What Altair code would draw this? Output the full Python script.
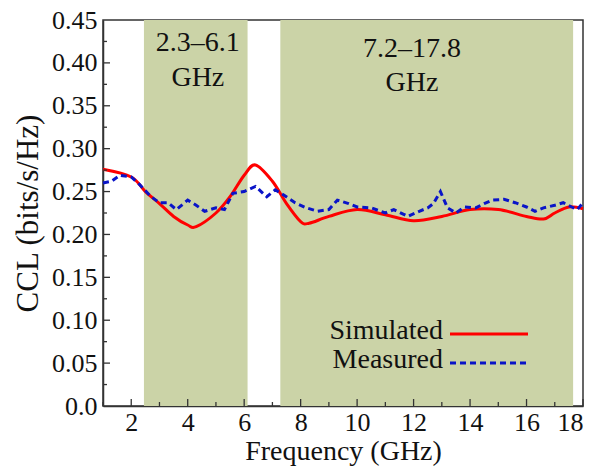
import altair as alt
import pandas as pd

# Simulated CCL (smooth)
sim_f = [1.0, 2.0, 2.5, 3.0, 3.5, 4.0, 4.3, 5.0, 5.5, 6.0, 6.4, 7.0, 7.5, 8.0, 8.3, 9.0,
         10.0, 11.0, 12.0, 13.0, 14.0, 15.0, 16.0, 16.6, 17.0, 17.5, 18.0]
sim_v = [0.276, 0.267, 0.250, 0.236, 0.221, 0.211, 0.209, 0.225, 0.244, 0.269, 0.281, 0.262,
         0.236, 0.215, 0.213, 0.221, 0.229, 0.223, 0.216, 0.221, 0.229, 0.229, 0.221, 0.218,
         0.225, 0.232, 0.230]

# Measured CCL (wiggly)
mea_f = [1.0, 1.3, 1.6, 2.0, 2.3, 2.7, 3.0, 3.3, 3.6, 4.0, 4.3, 4.6, 5.0, 5.3, 5.6, 6.0,
         6.4, 6.8, 7.1, 7.4, 7.8, 8.2, 8.6, 9.0, 9.3, 9.7, 10.0, 10.5, 11.0, 11.3, 11.8,
         12.2, 12.5, 12.7, 12.95, 13.2, 13.5, 13.8, 14.2, 14.5, 14.8, 15.2, 15.6, 16.0,
         16.3, 16.6, 17.0, 17.3, 17.6, 17.8, 18.0]
mea_v = [0.260, 0.262, 0.269, 0.267, 0.258, 0.244, 0.237, 0.237, 0.229, 0.240, 0.234, 0.227,
         0.231, 0.229, 0.248, 0.250, 0.256, 0.244, 0.252, 0.246, 0.237, 0.231, 0.227, 0.229,
         0.240, 0.236, 0.232, 0.231, 0.225, 0.229, 0.221, 0.227, 0.231, 0.236, 0.250, 0.231,
         0.225, 0.232, 0.231, 0.236, 0.240, 0.241, 0.237, 0.232, 0.227, 0.231, 0.234, 0.237,
         0.232, 0.229, 0.237]

# Shaded bands (as drawn) and their labels
band_start = [2.45, 7.28]
band_end = [6.12, 17.65]
band_label_1 = ["2.3\u20136.1", "7.2\u201317.8"]
band_label_2 = ["GHz", "GHz"]
band_label_x = [4.36, 11.94]

x_major = [2, 4, 6, 8, 10, 12, 14, 16, 18]
x_minor = [1, 3, 5, 7, 9, 11, 13, 15, 17]
y_major = [0.05, 0.10, 0.15, 0.20, 0.25, 0.30, 0.35, 0.40]
y_minor = [0.025, 0.075, 0.125, 0.175, 0.225, 0.275, 0.325, 0.375, 0.425]
y_labels = [0.0, 0.05, 0.10, 0.15, 0.20, 0.25, 0.30, 0.35, 0.40, 0.45]

legend_names = ["Simulated", "Measured"]

FONT = "Liberation Serif"
W, H = 480, 386
TXT = "#111111"
AX = "#333333"
FS_TICK = 26
FS = 28
RED = "#ff0000"
BLUE = "#0a14c8"

xs = alt.Scale(domain=[1, 18], nice=False, zero=False)
ys = alt.Scale(domain=[0, 0.45], nice=False, zero=False)

sim_df = pd.DataFrame({"f": sim_f, "v": sim_v})
mea_df = pd.DataFrame({"f": mea_f, "v": mea_v})
band_df = pd.DataFrame({"s": band_start, "e": band_end, "l1": band_label_1,
                        "l2": band_label_2, "cx": band_label_x})

bands = alt.Chart(band_df).mark_rect(color="#cbd3a7").encode(
    x=alt.X("s:Q", scale=xs,
            axis=alt.Axis(values=x_major, title="Frequency (GHz)", tickSize=0,
                          labelPadding=3, labelFontSize=FS_TICK, titleFontSize=FS,
                          titlePadding=2, grid=False, domainColor=AX, domainWidth=1.5,
                          labelColor=TXT, titleColor=TXT, labelFont=FONT, titleFont=FONT,
                          titleFontWeight="normal")),
    x2="e:Q",
    y=alt.value(0), y2=alt.value(H),
)

def band_text(i, field, ypix):
    return alt.Chart(band_df.iloc[[i]]).mark_text(
        font=FONT, fontSize=FS, color=TXT, baseline="alphabetic").encode(
        x=alt.X("cx:Q", scale=xs), y=alt.value(ypix), text=f"{field}:N")

yaxis = alt.Axis(values=y_labels, title="CCL (bits/s/Hz)", tickSize=0, labelPadding=6,
                 labelFontSize=FS_TICK, titleFontSize=31, titlePadding=7, grid=False,
                 domainColor=AX, domainWidth=1.5, labelColor=TXT, titleColor=TXT,
                 labelFont=FONT, titleFont=FONT, titleFontWeight="normal",
                 labelExpr="datum.value == 0 ? '0.0' : format(datum.value, '.2f')")

sim = alt.Chart(sim_df).mark_line(color=RED, strokeWidth=3, interpolate="cardinal").encode(
    x=alt.X("f:Q", scale=xs),
    y=alt.Y("v:Q", scale=ys, axis=yaxis),
)
mea = alt.Chart(mea_df).mark_line(color=BLUE, strokeWidth=3, strokeDash=[6, 4]).encode(
    x=alt.X("f:Q", scale=xs), y=alt.Y("v:Q", scale=ys))

def xticks(vals, L):
    return alt.Chart(pd.DataFrame({"t": vals})).mark_rule(color=AX, strokeWidth=1.3).encode(
        x=alt.X("t:Q", scale=xs), y=alt.value(H), y2=alt.value(H - L))

def yticks(vals, L):
    return alt.Chart(pd.DataFrame({"t": vals})).mark_rule(color=AX, strokeWidth=1.3).encode(
        y=alt.Y("t:Q", scale=ys), x=alt.value(0), x2=alt.value(L))

def leg_label(name, ypix):
    return alt.Chart(pd.DataFrame({"name": [name]})).mark_text(
        font=FONT, fontSize=FS, color=TXT, align="right", baseline="alphabetic").encode(
        text="name:N", x=alt.value(340), y=alt.value(ypix))

leg_sim = alt.Chart(pd.DataFrame({"name": [legend_names[0]]})).mark_rule(
    color=RED, strokeWidth=3).encode(x=alt.value(347), x2=alt.value(425), y=alt.value(314))
leg_mea = alt.Chart(pd.DataFrame({"name": [legend_names[1]]})).mark_rule(
    color=BLUE, strokeWidth=3, strokeDash=[6, 4]).encode(
    x=alt.value(347), x2=alt.value(425), y=alt.value(343))

chart = alt.layer(
    bands,
    band_text(0, "l1", 31), band_text(0, "l2", 66),
    band_text(1, "l1", 37), band_text(1, "l2", 71),
    sim, mea,
    xticks(x_major, 7), xticks(x_minor, 4), yticks(y_major, 7), yticks(y_minor, 4),
    leg_label(legend_names[0], 319), leg_label(legend_names[1], 348), leg_sim, leg_mea,
).properties(
    width=W, height=H,
    autosize=alt.AutoSizeParams(type="none"),
    padding={"left": 103, "top": 20, "right": 13, "bottom": 62},
    background="white",
).configure(font=FONT).configure_view(stroke=AX, strokeWidth=1.5)

chart.save("out.html", embed_options={"renderer": "svg", "actions": False})
